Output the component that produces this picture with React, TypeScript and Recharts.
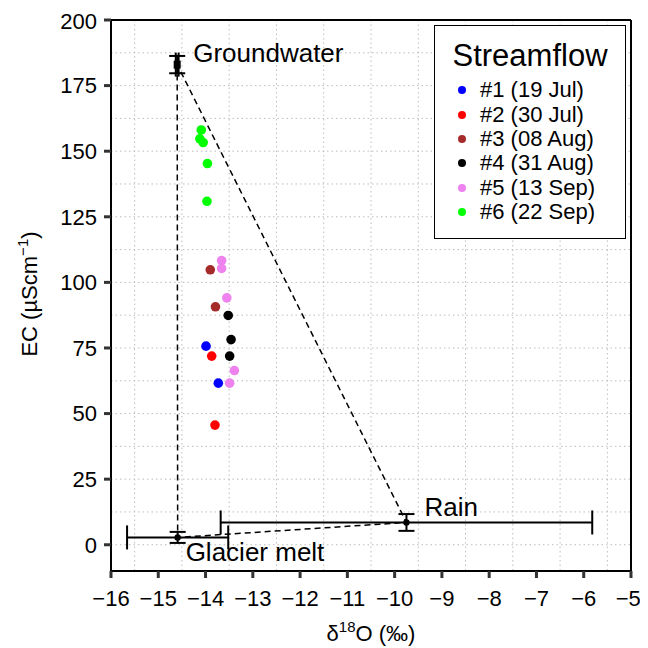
import React from 'react';
import { ScatterChart, Scatter, XAxis, YAxis, CartesianGrid, ErrorBar, ReferenceLine } from 'recharts';

const FONT = '"Liberation Sans", Arial, Helvetica, sans-serif';

// streamflow samples, one array per sampling date
const s1 = [{ x: -13.99, y: 75.7 }, { x: -13.73, y: 61.6 }];
const s2 = [{ x: -13.87, y: 71.9 }, { x: -13.8, y: 45.6 }];
const s3 = [{ x: -13.9, y: 104.8 }, { x: -13.79, y: 90.7 }];
const s4 = [{ x: -13.52, y: 87.4 }, { x: -13.46, y: 78.2 }, { x: -13.49, y: 71.9 }];
const s5 = [
  { x: -13.66, y: 108.3 }, { x: -13.66, y: 105.3 }, { x: -13.55, y: 94.1 },
  { x: -13.39, y: 66.4 }, { x: -13.49, y: 61.6 },
];
const s6 = [
  { x: -14.09, y: 158.1 }, { x: -14.12, y: 154.7 }, { x: -14.05, y: 153.3 },
  { x: -13.96, y: 145.3 }, { x: -13.97, y: 130.9 },
];

const seriesNames = ['#1 (19 Jul)', '#2 (30 Jul)', '#3 (08 Aug)', '#4 (31 Aug)', '#5 (13 Sep)', '#6 (22 Sep)'];
const seriesColors = ['#0000ff', '#ff0000', '#a52a2a', '#000000', '#ee82ee', '#00ff00'];
const seriesData = [s1, s2, s3, s4, s5, s6];

// end members (mean +/- sd)
const endMembers = [
  { name: 'Groundwater', x: -14.6, y: 183, xErr: 0.03, yErr: 3.3 },
  { name: 'Glacier melt', x: -14.59, y: 2.8, xErr: 1.07, yErr: 2.1 },
  { name: 'Rain', x: -9.75, y: 8.5, xErr: 3.93, yErr: 3.2 },
];
const mixingTriangle = [endMembers[0], endMembers[1], endMembers[2], endMembers[0]];

const xTicks = [-16, -15, -14, -13, -12, -11, -10, -9, -8, -7, -6, -5];
const yTicks = [0, 25, 50, 75, 100, 125, 150, 175, 200];
const xGrid = [-15.5, -15, -14.5, -14, -13.5, -13, -12.5, -12, -11.5, -11, -10.5, -10, -9.5, -9, -8.5, -8, -7.5, -7, -6.5, -6, -5.5];
const yGrid = [0, 12.5, 25, 37.5, 50, 62.5, 75, 87.5, 100, 112.5, 125, 137.5, 150, 162.5, 175, 187.5];

const labelOffset: Record<string, { dx: number; dy: number }> = {
  Groundwater: { dx: 16, dy: -3 },
  'Glacier melt': { dx: 8, dy: 24 },
  Rain: { dx: 18, dy: -6 },
};

const EndMemberShape = (p: any) => {
  const off = labelOffset[p.payload.name] || { dx: 0, dy: 0 };
  return (
    <g>
      {p.payload.name === 'Groundwater' ? (
        <rect x={p.cx - 3.5} y={p.cy - 4} width={7} height={8} fill="#000" />
      ) : (
        <circle cx={p.cx} cy={p.cy} r={3.2} fill="#000" />
      )}
      <text x={p.cx + off.dx} y={p.cy + off.dy} fontSize={26} fontFamily={FONT} fill="#000">
        {p.payload.name}
      </text>
    </g>
  );
};

const YLabel = () => {
  const cy = 286;
  const x = 29;
  return (
    <text
      x={x}
      y={cy}
      transform={`rotate(-90, ${x}, ${cy})`}
      textAnchor="middle"
      fontSize={22}
      fontFamily={FONT}
      fill="#000"
    >
      EC (µScm
      <tspan dy={-9} fontSize={15}>−1</tspan>
      <tspan dy={9} fontSize={22}>)</tspan>
    </text>
  );
};

const XLabel = () => (
  <text x={363} y={633} textAnchor="middle" fontSize={22} fontFamily={FONT} fill="#000">
    δ
    <tspan dy={-9} fontSize={15}>18</tspan>
    <tspan dy={9} fontSize={22}>O (‰)</tspan>
  </text>
);

const Legend = () => (
  <div
    style={{
      position: 'absolute',
      left: 426,
      top: 17,
      width: 190,
      height: 212,
      border: '1.5px solid #000',
      background: '#fff',
      fontFamily: FONT,
      color: '#000',
    }}
  >
    <div style={{ textAlign: 'center', fontSize: 31, marginTop: 12, lineHeight: '36px' }}>Streamflow</div>
    <div style={{ marginTop: 4 }}>
      {seriesNames.map((n, i) => (
        <div key={n} style={{ display: 'flex', alignItems: 'center', height: 24.4, fontSize: 22 }}>
          <span
            style={{
              display: 'inline-block',
              width: 8,
              height: 8,
              borderRadius: 4,
              background: seriesColors[i],
              marginLeft: 23,
              marginRight: 14,
            }}
          />
          {n}
        </div>
      ))}
    </div>
  </div>
);

export default function App() {
  const tick = { fontSize: 22, fontFamily: FONT, fill: '#000' };
  return (
    <div style={{ position: 'relative', width: 632, height: 640 }}>
      <ScatterChart width={632} height={640} margin={{ top: 12, right: 9, bottom: 8, left: 0 }}>
        <CartesianGrid
          horizontalValues={yGrid}
          verticalValues={xGrid}
          stroke="#bdbdbd"
          strokeDasharray="1.5 3"
        />
        <XAxis
          type="number"
          dataKey="x"
          domain={[-16, -5]}
          ticks={xTicks}
          allowDataOverflow
          height={69}
          tick={tick}
          tickSize={7}
          tickMargin={12}
          tickLine={{ stroke: '#333', strokeWidth: 3 }}
          axisLine={{ stroke: '#000', strokeWidth: 2 }}
          tickFormatter={(v: number) => String(v).replace('-', '−')}
          label={<XLabel />}
        />
        <YAxis
          type="number"
          dataKey="y"
          domain={[-10, 200]}
          ticks={yTicks}
          allowDataOverflow
          width={103}
          tick={tick}
          tickSize={7}
          tickMargin={7}
          tickLine={{ stroke: '#333', strokeWidth: 3 }}
          axisLine={{ stroke: '#000', strokeWidth: 2 }}
          label={<YLabel />}
        />
        <ReferenceLine y={200} stroke="#000" strokeWidth={2} />
        <ReferenceLine x={-5} stroke="#000" strokeWidth={2} />
        <Scatter
          data={mixingTriangle}
          isAnimationActive={false}
          line={{ stroke: '#000', strokeWidth: 1.5, strokeDasharray: '6 4' }}
          shape={() => <g />}
        />
        <Scatter data={endMembers} isAnimationActive={false} shape={EndMemberShape}>
          <ErrorBar dataKey="xErr" direction="x" width={12} stroke="#000" strokeWidth={2} />
          <ErrorBar dataKey="yErr" direction="y" width={8} stroke="#000" strokeWidth={2} />
        </Scatter>
        {seriesData.map((d, i) => (
          <Scatter
            key={seriesNames[i]}
            name={seriesNames[i]}
            data={d}
            isAnimationActive={false}
            shape={(p: any) => <circle cx={p.cx} cy={p.cy} r={4.8} fill={seriesColors[i]} />}
          />
        ))}
      </ScatterChart>
      <Legend />
    </div>
  );
}
